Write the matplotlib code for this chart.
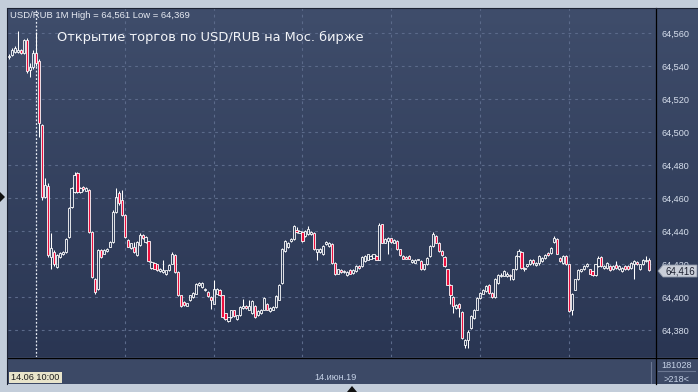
import numpy as np
import pandas as pd
import matplotlib
matplotlib.use("Agg")
import matplotlib.pyplot as plt
from matplotlib.colors import LinearSegmentedColormap
from matplotlib.patches import Rectangle, Polygon
from matplotlib.lines import Line2D

# USD/RUB 1-minute candles, 14.06.2019 from 09:51
opens = [64.5455, 64.5470, 64.5485, 64.5485, 64.5500, 64.5480, 64.5560, 64.5375, 64.5395, 64.5480,
         64.5430, 64.5045, 64.4608, 64.4673, 64.4243, 64.4273, 64.4182, 64.4243, 64.4260, 64.4273,
         64.4365, 64.4547, 64.4639, 64.4754, 64.4639, 64.4665, 64.4645, 64.4649, 64.4395, 64.4111,
         64.4050, 64.4283, 64.4263, 64.4280, 64.4304, 64.4334, 64.4517, 64.4628, 64.4588, 64.4497,
         64.4348, 64.4295, 64.4304, 64.4253, 64.4314, 64.4375, 64.4334, 64.4338, 64.4178, 64.4206,
         64.4198, 64.4158, 64.4151, 64.4137, 64.4162, 64.4202, 64.4253, 64.4151, 64.4009, 64.3969,
         64.3948, 64.3979, 64.3999, 64.4019, 64.4070, 64.4060, 64.4040, 64.4030, 64.4000, 64.3960,
         64.4020, 64.4044, 64.4009, 64.3900, 64.3857, 64.3877, 64.3918, 64.3867, 64.3893, 64.3933,
         64.3947, 64.3923, 64.3903, 64.3943, 64.3893, 64.3903, 64.3923, 64.3957, 64.3913, 64.3923,
         64.3939, 64.3984, 64.4085, 64.4278, 64.4300, 64.4339, 64.4349, 64.4406, 64.4390, 64.4396,
         64.4370, 64.4380, 64.4380, 64.4390, 64.4272, 64.4272, 64.4258, 64.4319, 64.4309, 64.4319,
         64.4207, 64.4142, 64.4163, 64.4150, 64.4136, 64.4163, 64.4146, 64.4156, 64.4187, 64.4187,
         64.4217, 64.4227, 64.4232, 64.4238, 64.4248, 64.4227, 64.4441, 64.4329, 64.4339, 64.4355,
         64.4329, 64.4339, 64.4288, 64.4248, 64.4244, 64.4248, 64.4211, 64.4207, 64.4225, 64.4217,
         64.4167, 64.4197, 64.4248, 64.4309, 64.4370, 64.4329, 64.4278, 64.4245, 64.4167, 64.4075,
         64.4000, 64.3933, 64.3960, 64.3909, 64.3710, 64.3740, 64.3811, 64.3872, 64.3923, 64.3994,
         64.4020, 64.4035, 64.4075, 64.4024, 64.3999, 64.4085, 64.4126, 64.4130, 64.4126, 64.4136,
         64.4106, 64.4167, 64.4248, 64.4272, 64.4167, 64.4187, 64.4197, 64.4222, 64.4193, 64.4207,
         64.4217, 64.4238, 64.4268, 64.4268, 64.4332, 64.4349, 64.4238, 64.4207, 64.4248, 64.4197,
         64.3919, 64.4045, 64.4106, 64.4156, 64.4167, 64.4187, 64.4167, 64.4156, 64.4136, 64.4187,
         64.4244, 64.4177, 64.4177, 64.4187, 64.4167, 64.4191, 64.4167, 64.4156, 64.4187, 64.4187,
         64.4177, 64.4197, 64.4211, 64.4167, 64.4197, 64.4217, 64.4227]
highs = [64.5475, 64.5510, 64.5520, 64.5610, 64.5505, 64.5565, 64.5570, 64.5420, 64.5500, 64.5605,
         64.5440, 64.5050, 64.4720, 64.4690, 64.4385, 64.4285, 64.4260, 64.4272, 64.4280, 64.4360,
         64.4545, 64.4665, 64.4760, 64.4760, 64.4668, 64.4670, 64.4668, 64.4655, 64.4400, 64.4115,
         64.4290, 64.4290, 64.4290, 64.4295, 64.4340, 64.4525, 64.4659, 64.4640, 64.4650, 64.4500,
         64.4352, 64.4330, 64.4334, 64.4340, 64.4389, 64.4380, 64.4370, 64.4342, 64.4216, 64.4210,
         64.4202, 64.4176, 64.4222, 64.4166, 64.4200, 64.4273, 64.4258, 64.4155, 64.4013, 64.3973,
         64.3966, 64.4013, 64.4028, 64.4084, 64.4088, 64.4090, 64.4054, 64.4034, 64.4004, 64.4100,
         64.4054, 64.4048, 64.4013, 64.3904, 64.3881, 64.3922, 64.3922, 64.3892, 64.3945, 64.3988,
         64.3952, 64.3980, 64.3980, 64.3950, 64.3920, 64.3930, 64.4000, 64.3965, 64.3940, 64.3945,
         64.4010, 64.4080, 64.4295, 64.4345, 64.4335, 64.4355, 64.4435, 64.4425, 64.4405, 64.4402,
         64.4405, 64.4430, 64.4400, 64.4396, 64.4292, 64.4295, 64.4315, 64.4340, 64.4335, 64.4325,
         64.4210, 64.4172, 64.4168, 64.4165, 64.4155, 64.4168, 64.4168, 64.4192, 64.4192, 64.4250,
         64.4255, 64.4262, 64.4255, 64.4262, 64.4252, 64.4447, 64.4445, 64.4355, 64.4365, 64.4360,
         64.4350, 64.4345, 64.4292, 64.4252, 64.4248, 64.4252, 64.4232, 64.4228, 64.4233, 64.4222,
         64.4202, 64.4243, 64.4315, 64.4396, 64.4375, 64.4335, 64.4282, 64.4250, 64.4172, 64.4080,
         64.4005, 64.3960, 64.3965, 64.3915, 64.3745, 64.3800, 64.3890, 64.3930, 64.4000, 64.4030,
         64.4048, 64.4070, 64.4080, 64.4028, 64.4115, 64.4140, 64.4145, 64.4162, 64.4150, 64.4140,
         64.4172, 64.4252, 64.4292, 64.4278, 64.4182, 64.4202, 64.4228, 64.4228, 64.4212, 64.4252,
         64.4243, 64.4258, 64.4272, 64.4303, 64.4369, 64.4355, 64.4242, 64.4255, 64.4252, 64.4202,
         64.4025, 64.4110, 64.4167, 64.4172, 64.4192, 64.4203, 64.4172, 64.4160, 64.4202, 64.4248,
         64.4250, 64.4192, 64.4212, 64.4192, 64.4192, 64.4217, 64.4192, 64.4182, 64.4192, 64.4192,
         64.4210, 64.4222, 64.4216, 64.4202, 64.4232, 64.4248, 64.4235]
lows = [64.5440, 64.5462, 64.5478, 64.5478, 64.5475, 64.5475, 64.5360, 64.5335, 64.5385, 64.5400,
        64.4970, 64.4590, 64.4600, 64.4240, 64.4172, 64.4190, 64.4178, 64.4238, 64.4255, 64.4268,
        64.4360, 64.4540, 64.4630, 64.4630, 64.4630, 64.4645, 64.4640, 64.4390, 64.4115, 64.4016,
        64.4040, 64.4238, 64.4258, 64.4275, 64.4300, 64.4330, 64.4510, 64.4560, 64.4490, 64.4360,
        64.4300, 64.4290, 64.4268, 64.4250, 64.4310, 64.4350, 64.4330, 64.4214, 64.4172, 64.4168,
        64.4158, 64.4154, 64.4147, 64.4133, 64.4158, 64.4198, 64.4147, 64.4005, 64.3938, 64.3945,
        64.3944, 64.3975, 64.3995, 64.4015, 64.4066, 64.4056, 64.4036, 64.3999, 64.3928, 64.3955,
        64.4016, 64.4005, 64.3873, 64.3863, 64.3850, 64.3873, 64.3879, 64.3863, 64.3885, 64.3928,
        64.3928, 64.3918, 64.3898, 64.3870, 64.3885, 64.3898, 64.3918, 64.3918, 64.3908, 64.3918,
        64.3935, 64.3980, 64.4080, 64.4272, 64.4295, 64.4335, 64.4345, 64.4388, 64.4385, 64.4335,
        64.4365, 64.4375, 64.4375, 64.4284, 64.4227, 64.4268, 64.4255, 64.4315, 64.4300, 64.4200,
        64.4135, 64.4138, 64.4145, 64.4145, 64.4125, 64.4138, 64.4140, 64.4152, 64.4172, 64.4182,
        64.4212, 64.4222, 64.4228, 64.4234, 64.4222, 64.4222, 64.4325, 64.4325, 64.4258, 64.4330,
        64.4325, 64.4284, 64.4248, 64.4228, 64.4228, 64.4228, 64.4208, 64.4203, 64.4222, 64.4162,
        64.4162, 64.4193, 64.4245, 64.4305, 64.4325, 64.4272, 64.4248, 64.4182, 64.4070, 64.3955,
        64.3900, 64.3928, 64.3880, 64.3745, 64.3692, 64.3690, 64.3805, 64.3865, 64.3918, 64.3990,
        64.4015, 64.4030, 64.4020, 64.3995, 64.3995, 64.4080, 64.4120, 64.4125, 64.4120, 64.4105,
        64.4100, 64.4162, 64.4244, 64.4172, 64.4160, 64.4182, 64.4192, 64.4195, 64.4188, 64.4195,
        64.4212, 64.4232, 64.4248, 64.4263, 64.4328, 64.4258, 64.4212, 64.4200, 64.4192, 64.3908,
        64.3892, 64.4040, 64.4100, 64.4152, 64.4162, 64.4183, 64.4138, 64.4130, 64.4130, 64.4182,
        64.4182, 64.4172, 64.4172, 64.4158, 64.4162, 64.4172, 64.4162, 64.4150, 64.4166, 64.4166,
        64.4172, 64.4106, 64.4192, 64.4162, 64.4192, 64.4212, 64.4158]
closes = [64.5462, 64.5500, 64.5508, 64.5500, 64.5482, 64.5555, 64.5368, 64.5395, 64.5480, 64.5420,
          64.5055, 64.4608, 64.4679, 64.4253, 64.4294, 64.4202, 64.4253, 64.4265, 64.4273, 64.4354,
          64.4537, 64.4659, 64.4740, 64.4639, 64.4660, 64.4652, 64.4660, 64.4395, 64.4121, 64.4030,
          64.4283, 64.4243, 64.4283, 64.4290, 64.4334, 64.4517, 64.4608, 64.4568, 64.4497, 64.4365,
          64.4304, 64.4325, 64.4273, 64.4334, 64.4375, 64.4355, 64.4365, 64.4218, 64.4212, 64.4172,
          64.4162, 64.4172, 64.4162, 64.4162, 64.4196, 64.4263, 64.4151, 64.4009, 64.3948, 64.3950,
          64.3962, 64.4009, 64.4024, 64.4080, 64.4084, 64.4084, 64.4050, 64.4003, 64.3980, 64.4050,
          64.4050, 64.4009, 64.3877, 64.3867, 64.3877, 64.3918, 64.3883, 64.3888, 64.3939, 64.3947,
          64.3933, 64.3947, 64.3974, 64.3878, 64.3913, 64.3923, 64.3994, 64.3923, 64.3933, 64.3939,
          64.4004, 64.4075, 64.4288, 64.4339, 64.4329, 64.4349, 64.4430, 64.4394, 64.4400, 64.4339,
          64.4400, 64.4414, 64.4394, 64.4288, 64.4288, 64.4288, 64.4309, 64.4333, 64.4329, 64.4207,
          64.4142, 64.4167, 64.4150, 64.4156, 64.4150, 64.4142, 64.4163, 64.4187, 64.4177, 64.4244,
          64.4248, 64.4258, 64.4248, 64.4258, 64.4227, 64.4435, 64.4329, 64.4349, 64.4359, 64.4335,
          64.4345, 64.4288, 64.4252, 64.4232, 64.4232, 64.4232, 64.4227, 64.4223, 64.4230, 64.4167,
          64.4197, 64.4238, 64.4309, 64.4380, 64.4329, 64.4278, 64.4252, 64.4187, 64.4075, 64.4014,
          64.3943, 64.3953, 64.3933, 64.3750, 64.3740, 64.3790, 64.3882, 64.3923, 64.3994, 64.4024,
          64.4040, 64.4065, 64.4024, 64.3999, 64.4110, 64.4136, 64.4136, 64.4156, 64.4142, 64.4126,
          64.4167, 64.4248, 64.4278, 64.4177, 64.4177, 64.4197, 64.4222, 64.4207, 64.4207, 64.4248,
          64.4238, 64.4252, 64.4252, 64.4298, 64.4359, 64.4263, 64.4217, 64.4248, 64.4197, 64.3913,
          64.4020, 64.4106, 64.4163, 64.4167, 64.4187, 64.4197, 64.4142, 64.4136, 64.4197, 64.4238,
          64.4187, 64.4187, 64.4207, 64.4163, 64.4187, 64.4177, 64.4187, 64.4177, 64.4171, 64.4171,
          64.4203, 64.4217, 64.4197, 64.4197, 64.4227, 64.4227, 64.4162]

times = pd.date_range("2019-06-14 09:51", periods=len(closes), freq="min")
price_levels = [64.38, 64.40, 64.42, 64.44, 64.46, 64.48, 64.50, 64.52, 64.54, 64.56]
last_price = "64,416"

W, H = 698, 392
fig = plt.figure(figsize=(W / 100, H / 100), dpi=100)
fig.patch.set_facecolor("#c3cdda")


def rect(x0, y0, x1, y1):
    return [x0 / W, 1 - y1 / H, (x1 - x0) / W, (y1 - y0) / H]


def fx(px):
    return px / W


def fy(py):
    return 1 - py / H


# gradient background (plot + right scale)
bg = fig.add_axes(rect(8, 8, 698, 357))
cmap = LinearSegmentedColormap.from_list("bg", ["#2a3653", "#3f4d6b"])
bg.imshow(np.linspace(1, 0, 256).reshape(-1, 1), aspect="auto", cmap=cmap,
          extent=[0, 1, 0, 1])
bg.axis("off")

# bottom time strip
fig.add_artist(Rectangle((fx(8), fy(384)), fx(690), 27 / H, transform=fig.transFigure,
                         facecolor="#3c4966", edgecolor="none"))

ax = fig.add_axes(rect(8, 8, 655, 357))
ax.set_facecolor("none")
for s in ax.spines.values():
    s.set_visible(False)

o = np.array(opens)
h = np.array(highs)
l = np.array(lows)
c = np.array(closes)
x = np.arange(len(c))
up = c >= o
top = np.maximum(o, c)
bot = np.minimum(o, c)
height = np.maximum(top - bot, 0.0004)

ax.set_xlim(-0.47, 218.1)
ax.set_ylim(64.3636, 64.5752)

# grid
grid_col = "#5b6a8a"
for lv in price_levels:
    ax.axhline(lv, color=grid_col, lw=0.8, ls=(0, (2.5, 3.5)), zorder=1)
minute_idx = [i for i, t in enumerate(times) if t.minute in (0, 30)]
for i in minute_idx:
    if times[i].hour == 10 and times[i].minute == 0:
        ax.axvline(i, color="#e8ecf4", lw=0.9, ls=(0, (1.5, 1.5)), zorder=1)
    else:
        ax.axvline(i, color=grid_col, lw=0.8, ls=(0, (2.5, 3.5)), zorder=1)

# wicks
ax.vlines(x, top, h, color="white", lw=0.75, zorder=2)
ax.vlines(x, l, bot, color="white", lw=0.75, zorder=2)
# bodies
ax.bar(x[up], height[up], bottom=bot[up], width=0.72, facecolor="none",
       edgecolor="white", linewidth=0.6, zorder=3)
ax.bar(x[~up], height[~up], bottom=bot[~up], width=0.72, facecolor="#ec0f3e",
       edgecolor="white", linewidth=0.6, zorder=3)

# axes labels
ax.yaxis.tick_right()
ax.set_yticks(price_levels)
ax.set_yticklabels([f"{v:.3f}".replace(".", ",") for v in price_levels])
ax.set_xticks(minute_idx)
ax.set_xticklabels([t.strftime("%H:%M") for t in times[minute_idx]])
ax.tick_params(axis="y", length=0, pad=5, labelsize=6.6, labelcolor="#d8e0ee")
ax.tick_params(axis="x", length=0, pad=3, labelsize=6.6, labelcolor="#c6d2e6")
for lab in ax.get_xticklabels() + ax.get_yticklabels():
    lab.set_fontfamily("Liberation Sans")

# frame lines
fig.add_artist(Line2D([fx(655.5), fx(655.5)], [fy(8), fy(384)], color="black", lw=0.9))
fig.add_artist(Line2D([fx(8), fx(698)], [fy(357.5), fy(357.5)], color="black", lw=0.9))
fig.add_artist(Line2D([fx(7.5), fx(7.5)], [fy(8), fy(384)], color="#1c2233", lw=0.8))
fig.add_artist(Line2D([fx(8), fx(698)], [fy(7.5), fy(7.5)], color="#1c2233", lw=0.8))
fig.add_artist(Line2D([fx(651), fx(651)], [fy(362), fy(383)], color="#6b7792", lw=0.8))
fig.add_artist(Line2D([fx(658), fx(695)], [fy(371), fy(371)], color="#6b7792", lw=0.8))

# texts
fig.text(fx(10), fy(15), "USD/RUB 1M High = 64,561 Low = 64,369", fontsize=6.8,
         color="#e6eaf2", va="center", ha="left", family="Liberation Sans")
fig.text(fx(57), fy(37), "Открытие торгов по USD/RUB на Мос. бирже", fontsize=9.4,
         color="#f2f4f8", va="center", ha="left", family="DejaVu Sans")

# last price marker
fig.add_artist(Polygon([[fx(658), fy(271)], [fx(663), fy(265)], [fx(697), fy(265)],
                        [fx(697), fy(277)], [fx(663), fy(277)]], closed=True,
                       transform=fig.transFigure, facecolor="#c9ced8", edgecolor="#8d96a6",
                       lw=0.6, zorder=5))
fig.text(fx(680), fy(271), last_price, fontsize=7, color="#1c2030", ha="center",
         va="center", family="Liberation Sans", zorder=6)

# date box
fig.add_artist(Rectangle((fx(9), fy(383)), 53 / W, 11 / H, transform=fig.transFigure,
                         facecolor="#e8e4cb", edgecolor="none"))
fig.text(fx(35.5), fy(377.5), "14.06 10:00", fontsize=6.6, color="#1c1c1c", ha="center",
         va="center", family="Liberation Sans")
fig.text(fx(335), fy(377), "14.июн.19", fontsize=6.6, color="#c6d2e6", ha="center",
         va="center", family="Liberation Sans")
fig.text(fx(677), fy(365), "181028", fontsize=6.6, color="#c6d2e6", ha="center",
         va="center", family="Liberation Sans")
fig.text(fx(677), fy(379), ">218<", fontsize=6.6, color="#c6d2e6", ha="center",
         va="center", family="Liberation Sans")

# small frame markers
fig.add_artist(Polygon([[fx(0), fy(192)], [fx(5), fy(197)], [fx(0), fy(202)]], closed=True,
                       transform=fig.transFigure, facecolor="#111111", edgecolor="none"))
fig.add_artist(Polygon([[fx(347), fy(392)], [fx(352), fy(386)], [fx(357), fy(392)]], closed=True,
                       transform=fig.transFigure, facecolor="#111111", edgecolor="none"))

fig.savefig("out.png", dpi=100, facecolor=fig.get_facecolor())
